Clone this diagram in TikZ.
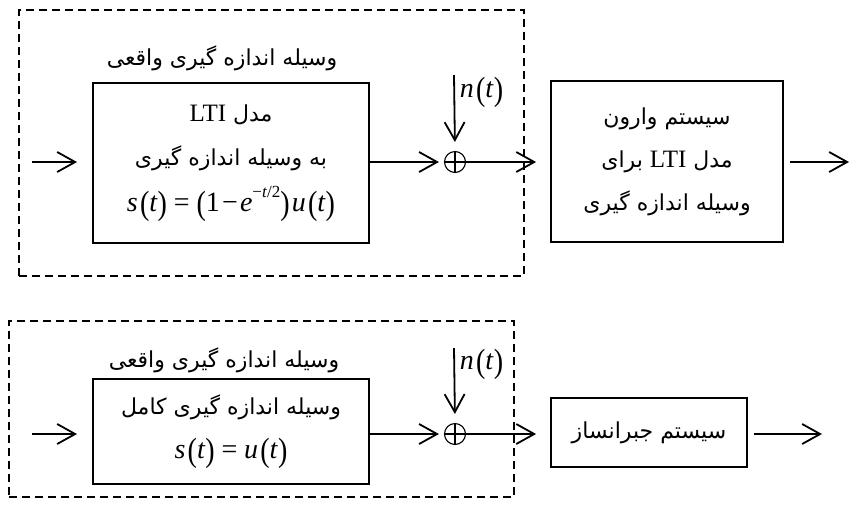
\documentclass[tikz,border=0pt]{standalone}
\usepackage{fontspec}
\usepackage{graphicx}
\setmainfont{Liberation Serif}
\newfontfamily\arabicfont[Script=Arabic]{DejaVu Sans}
\TeXXeTstate=1
\usetikzlibrary{arrows.meta}
\newcommand\fa[1]{{\arabicfont\beginR #1\endR}}
\newcommand\lt{\beginL{\rmfamily\fontsize{25}{25}\selectfont LTI}\endL}
\newcommand\vi[1]{\textit{#1}}
\newcommand\kk{\kern2.2pt}
\newcommand\LPa{\raisebox{-0.09em}{\scalebox{1}[1.2]{(}}}
\newcommand\RPa{\raisebox{-0.09em}{\scalebox{1}[1.2]{)}}}
\newcommand\supr[1]{\raisebox{0.5em}{\fontsize{17}{17}\selectfont #1}}
\begin{document}
\begin{tikzpicture}[x=1pt,y=-1pt,
  line width=1.8pt,
  arr/.style={-{Straight Barb[length=18pt,width=20pt]}},
  blk/.style={draw, line width=1.8pt, inner sep=0pt, align=center,
    font=\fontsize{22}{46}\selectfont},
  dbox/.style={draw, line width=1.8pt, dash pattern=on 8pt off 5pt, inner sep=0pt},
  summ/.style={circle, draw, line width=1.1pt, minimum size=21pt, inner sep=0pt},
  lab/.style={inner sep=0pt, font=\fontsize{22}{24}\selectfont},
  mth/.style={inner sep=0pt, font=\fontsize{28}{30}\selectfont}]
\useasboundingbox (0,0) rectangle (850,507);

% ---------- top diagram ----------
\node[dbox, minimum width=505pt, minimum height=266pt] (dash1) at (271.5,143) {};
\node[lab] (title1) at (222,58) {\fa{وسیله اندازه گیری واقعی}};
\node[blk, minimum width=276pt, minimum height=160pt] (box1) at (231,163)
  {\fa{مدل \lt}\\[-2pt] \fa{به وسیله اندازه گیری}\\[0pt]
   {\fontsize{28}{30}\selectfont \vi{s}\kk\LPa\vi{t}\RPa\kk\,=\,\kk\LPa1\kk−\kk\vi{e}\supr{−\vi{t}/2}\RPa\kk\vi{u}\kk\LPa\vi{t}\RPa}};
\coordinate (in1) at (32,162);
\coordinate (in1e) at (77,162);
\node[summ] (sum1) at (455,162) {};
\draw[line width=1.1pt] (sum1.north) -- (sum1.south) (sum1.west) -- (sum1.east);
\coordinate (n1) at (454,75);
\node[mth, anchor=west] (nt1) at (459,92) {\vi{n}\kk\LPa\vi{t}\RPa};
\node[blk, minimum width=232pt, minimum height=161pt, font=\fontsize{22}{43}\selectfont] (box2) at (667,161.5)
  {\fa{سیستم وارون}\\ \fa{مدل \lt{} برای}\\ \fa{وسیله اندازه گیری}};
\coordinate (out1) at (849,162);

\draw[arr] (in1) -- (in1e);
\draw[arr, shorten >=5pt] (box1.east |- sum1.west) -- (sum1.west);
\draw[arr, shorten >=9pt] (n1) -- (sum1.north);
\draw[arr, shorten >=14pt] (sum1.east) -- (box2.west |- sum1.east);
\draw[arr, shorten <=6pt] (box2.east |- out1) -- (out1);

% ---------- bottom diagram ----------
\node[dbox, minimum width=505pt, minimum height=176pt] (dash2) at (261.5,409) {};
\node[lab] (title2) at (224,360) {\fa{وسیله اندازه گیری واقعی}};
\node[blk, minimum width=276pt, minimum height=105pt] (box3) at (231,431.5)
  {\fa{وسیله اندازه گیری کامل}\\[-2pt]
   {\fontsize{28}{30}\selectfont \vi{s}\kk\LPa\vi{t}\RPa\kk\,=\,\kk\vi{u}\kk\LPa\vi{t}\RPa}};
\coordinate (in2) at (32,434);
\coordinate (in2e) at (77,434);
\node[summ] (sum2) at (455,434) {};
\draw[line width=1.1pt] (sum2.north) -- (sum2.south) (sum2.west) -- (sum2.east);
\coordinate (n2) at (454,348);
\node[mth, anchor=west] (nt2) at (459,364) {\vi{n}\kk\LPa\vi{t}\RPa};
\node[blk, minimum width=196pt, minimum height=69pt] (box4) at (649,432.5)
  {\fa{سیستم جبرانساز}};
\coordinate (out2) at (822,434);

\draw[arr] (in2) -- (in2e);
\draw[arr, shorten >=5pt] (box3.east |- sum2.west) -- (sum2.west);
\draw[arr, shorten >=9pt] (n2) -- (sum2.north);
\draw[arr, shorten >=14pt] (sum2.east) -- (box4.west |- sum2.east);
\draw[arr, shorten <=6pt] (box4.east |- out2) -- (out2);
\end{tikzpicture}
\end{document}
